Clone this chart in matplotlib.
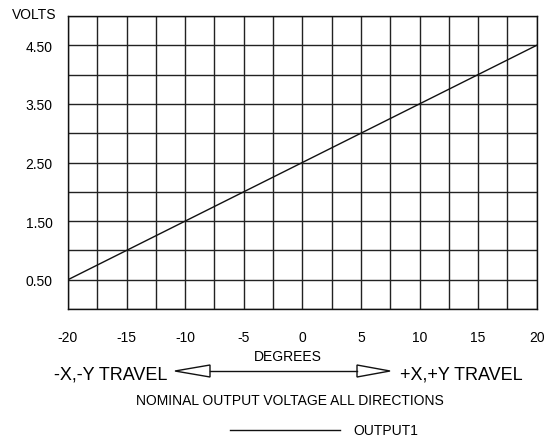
import matplotlib
matplotlib.use("Agg")
import matplotlib.pyplot as plt
import numpy as np
from matplotlib.lines import Line2D
from matplotlib.patches import Polygon

plt.rcParams['font.family'] = ['Liberation Sans', 'DejaVu Sans']

# Data
degrees = [-20, 20]
output1 = [0.5, 4.5]
x_ticks = [-20, -15, -10, -5, 0, 5, 10, 15, 20]
y_ticks = [0.5, 1.5, 2.5, 3.5, 4.5]
y_tick_labels = ["0.50", "1.50", "2.50", "3.50", "4.50"]
x_grid = np.arange(-20, 20.01, 2.5)
y_grid = np.arange(0, 5.01, 0.5)

W, H = 553, 439
fig = plt.figure(figsize=(W / 100, H / 100), dpi=100)
L, R, T, B = 68, 536.7, 17, 310
ax = fig.add_axes([L / W, 1 - B / H, (R - L) / W, (B - T) / H])
ax.set_xlim(-20, 20)
ax.set_ylim(0, 5)

for gx in x_grid:
    ax.axvline(gx, color='#222222', lw=1.0, zorder=1)
for gy in y_grid:
    ax.axhline(gy, color='#222222', lw=1.0, zorder=1)

ax.plot(degrees, output1, color='#111111', lw=1.0, zorder=3)

ax.set_xticks(x_ticks)
ax.set_xticklabels([str(v) for v in x_ticks], fontsize=10)
ax.set_yticks(y_ticks)
ax.set_yticklabels(y_tick_labels, fontsize=10)
ax.tick_params(length=0, pad=0)
ax.tick_params(axis='x', pad=15)
ax.tick_params(axis='y', pad=11)
for s in ax.spines.values():
    s.set_color('#111111')
    s.set_linewidth(1.0)

def fx(px):
    return px / W

def fy(py):
    return 1 - py / H

fig.text(fx(11.5), fy(15), "VOLTS", fontsize=10, ha='left', va='center')
fig.text(fx(288), fy(357), "DEGREES", fontsize=10, ha='center', va='center')
fig.text(fx(54), fy(375), "-X,-Y TRAVEL", fontsize=13, ha='left', va='center')
fig.text(fx(400), fy(375), "+X,+Y TRAVEL", fontsize=13, ha='left', va='center')
fig.text(fx(290), fy(401), "NOMINAL OUTPUT VOLTAGE ALL DIRECTIONS", fontsize=10, ha='center', va='center')

# arrow
ya = 372
fig.add_artist(Line2D([fx(210), fx(357)], [fy(ya), fy(ya)], color='#111111', lw=1.0, transform=fig.transFigure))
fig.add_artist(Polygon([[fx(175), fy(ya)], [fx(210), fy(ya - 6)], [fx(210), fy(ya + 6)]], closed=True,
                       facecolor='white', edgecolor='#111111', lw=1.0, transform=fig.transFigure))
fig.add_artist(Polygon([[fx(390), fy(ya)], [fx(357), fy(ya - 6)], [fx(357), fy(ya + 6)]], closed=True,
                       facecolor='white', edgecolor='#111111', lw=1.0, transform=fig.transFigure))

# legend
fig.add_artist(Line2D([fx(230), fx(340)], [fy(431), fy(431)], color='#111111', lw=1.0, transform=fig.transFigure))
fig.text(fx(353), fy(431), "OUTPUT1", fontsize=10, ha='left', va='center')

fig.savefig("out.png", dpi=100)
